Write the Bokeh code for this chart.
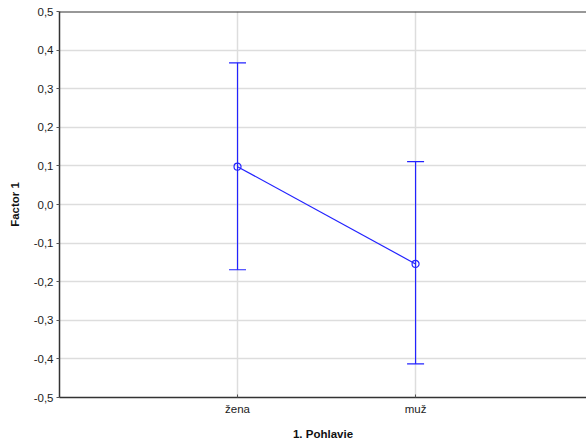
from bokeh.plotting import figure
from bokeh.models import ColumnDataSource, Whisker, TeeHead, FixedTicker, Span, Range1d
from bokeh.embed import file_html
from bokeh.resources import INLINE

categories = ["žena", "muž"]
means = [0.098, -0.154]
upper = [0.367, 0.111]
lower = [-0.169, -0.413]
y_ticks = [-0.5, -0.4, -0.3, -0.2, -0.1, 0.0, 0.1, 0.2, 0.3, 0.4, 0.5]

xs = [i + 1 for i in range(len(categories))]
src = ColumnDataSource(dict(x=xs, m=means, up=upper, lo=lower))

FONT = "Liberation Sans"
BLUE = "#2323ff"

p = figure(width=586, height=443, output_backend="svg", toolbar_location=None,
           x_range=Range1d(0, 2.96), y_range=Range1d(-0.5, 0.5),
           min_border_left=59, min_border_right=0, min_border_top=11, min_border_bottom=46)
p.outline_line_color = None
p.background_fill_color = "white"
p.border_fill_color = "white"

p.add_layout(Span(location=0.5, dimension="width", line_color="#333333", line_width=2))

p.xaxis.ticker = FixedTicker(ticks=xs)
p.xaxis.major_label_overrides = {x: c for x, c in zip(xs, categories)}
p.yaxis.ticker = FixedTicker(ticks=y_ticks)
p.yaxis.major_label_overrides = {t: ("%.1f" % t).replace(".", ",") for t in y_ticks}

for ax in (p.xaxis, p.yaxis):
    ax.axis_line_color = "#333333"
    ax.axis_line_width = 1.5
    ax.major_tick_line_color = "#555555"
    ax.minor_tick_line_color = None
    ax.major_label_text_font = FONT
    ax.major_label_text_font_size = "11.5px"
    ax.major_label_text_color = "#222222"
    ax.axis_label_text_font = FONT
    ax.axis_label_text_font_size = "11.5px"
    ax.axis_label_text_font_style = "bold"
    ax.axis_label_text_color = "#111111"

p.xaxis.major_tick_in = 3
p.xaxis.major_tick_out = 0
p.yaxis.major_tick_in = 0
p.yaxis.major_tick_out = 3
p.xaxis.axis_label = "1. Pohlavie"
p.yaxis.axis_label = "Factor 1"
p.xaxis.major_label_standoff = 5
p.xaxis.axis_label_standoff = 10
p.yaxis.major_label_standoff = 3
p.yaxis.axis_label_standoff = 10

p.xgrid.ticker = FixedTicker(ticks=xs)
p.ygrid.ticker = FixedTicker(ticks=y_ticks[1:-1])
p.grid.grid_line_color = "#dddddd"
p.grid.grid_line_width = 1.5

w = Whisker(source=src, base="x", upper="up", lower="lo", line_color=BLUE, line_width=1.2,
            upper_head=TeeHead(size=17, line_color=BLUE, line_width=1.2),
            lower_head=TeeHead(size=17, line_color=BLUE, line_width=1.2))
p.add_layout(w)
p.line("x", "m", source=src, line_color=BLUE, line_width=1.2)
p.scatter("x", "m", source=src, size=7, marker="circle", fill_color=None, line_color=BLUE, line_width=1.2)

open("out.html", "w").write(file_html(p, INLINE))
